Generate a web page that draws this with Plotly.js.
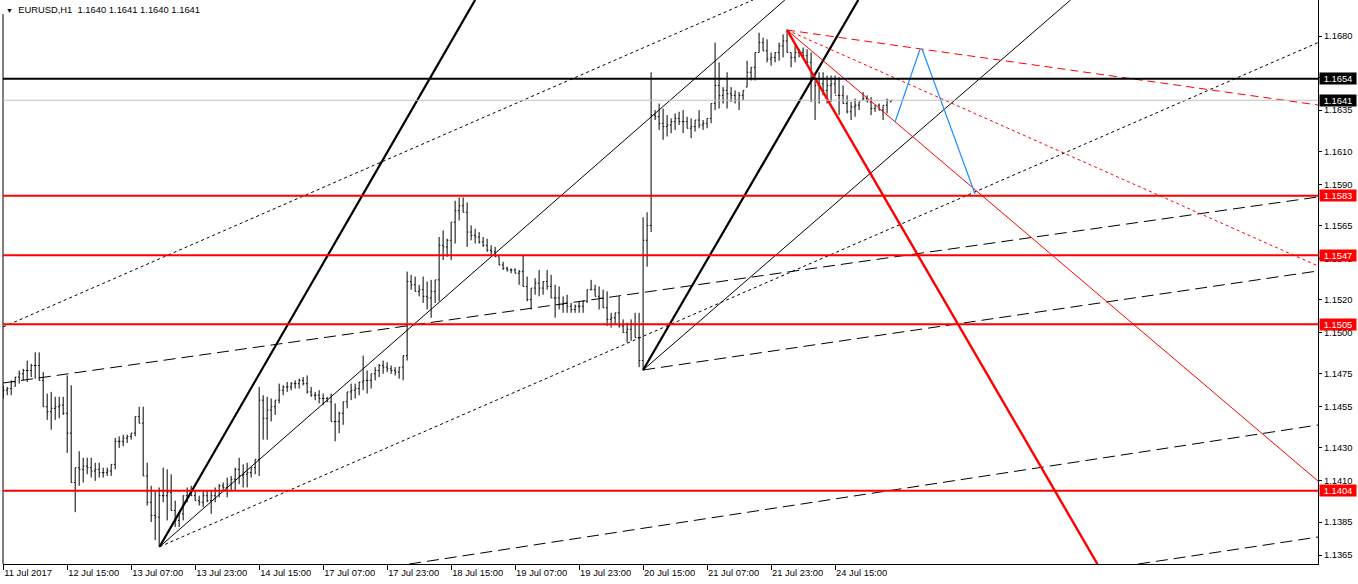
<!DOCTYPE html>
<html>
<head>
<meta charset="utf-8">
<script src="https://cdn.plot.ly/plotly-3.0.1.min.js"></script>
<style>
html,body{margin:0;padding:0;background:#ffffff;}
#chart{width:1358px;height:584px;}
</style>
</head>
<body>
<div id="chart"></div>
<script>
// ---------------- data ----------------
const symbolTitle = "EURUSD,H1";
const lastQuote = ["1.1640", "1.1641", "1.1640", "1.1641"];

const timeTickBars = [0, 16, 32, 48, 64, 80, 96, 112, 128, 144, 160, 176, 192, 208];
const timeTickLabels = ["11 Jul 2017", "12 Jul 15:00", "13 Jul 07:00", "13 Jul 23:00", "14 Jul 15:00",
  "17 Jul 07:00", "17 Jul 23:00", "18 Jul 15:00", "19 Jul 07:00", "19 Jul 23:00",
  "20 Jul 15:00", "21 Jul 07:00", "21 Jul 23:00", "24 Jul 15:00"];

const priceTicks = [1.1365, 1.1385, 1.1410, 1.1430, 1.1455, 1.1475, 1.1500, 1.1520, 1.1545,
  1.1565, 1.1590, 1.1610, 1.1635, 1.1655, 1.1680];

const opens = [
1.1462,1.1465,1.1466,1.1470,1.1473,1.1475,1.1477,1.1477,1.1480,1.1480,
1.1471,1.1455,1.1452,1.1454,1.1455,1.1456,1.1451,1.1439,1.1409,1.1418,
1.1417,1.1419,1.1418,1.1416,1.1417,1.1415,1.1415,1.1416,1.1420,1.1434,
1.1434,1.1436,1.1437,1.1439,1.1449,1.1445,1.1413,1.1397,1.1389,1.1388,
1.1401,1.1401,1.1403,1.1392,1.1386,1.1390,1.1401,1.1404,1.1401,1.1398,
1.1397,1.1401,1.1398,1.1401,1.1404,1.1407,1.1406,1.1408,1.1411,1.1417,
1.1413,1.1414,1.1415,1.1418,1.1423,1.1459,1.1448,1.1453,1.1455,1.1459,
1.1465,1.1467,1.1467,1.1469,1.1469,1.1471,1.1469,1.1464,1.1462,1.1462,
1.1460,1.1460,1.1458,1.1446,1.1446,1.1451,1.1458,1.1464,1.1465,1.1466,
1.1470,1.1471,1.1471,1.1475,1.1477,1.1480,1.1479,1.1478,1.1477,1.1476,
1.1479,1.1486,1.1531,1.1529,1.1525,1.1526,1.1522,1.1521,1.1525,1.1532,
1.1553,1.1552,1.1556,1.1567,1.1574,1.1577,1.1573,1.1561,1.1559,1.1558,
1.1555,1.1553,1.1550,1.1549,1.1546,1.1541,1.1539,1.1538,1.1538,1.1536,
1.1537,1.1528,1.1520,1.1527,1.1530,1.1527,1.1531,1.1528,1.1521,1.1521,
1.1517,1.1518,1.1516,1.1514,1.1516,1.1516,1.1519,1.1526,1.1526,1.1522,
1.1521,1.1515,1.1508,1.1509,1.1512,1.1504,1.1500,1.1502,1.1505,1.1497,
1.1483,1.1556,1.1565,1.1632,1.1631,1.1627,1.1625,1.1626,1.1628,1.1630,
1.1628,1.1628,1.1624,1.1625,1.1629,1.1626,1.1627,1.1630,1.1639,1.1650,
1.1644,1.1647,1.1645,1.1644,1.1641,1.1644,1.1649,1.1658,1.1661,1.1670,
1.1676,1.1671,1.1666,1.1667,1.1670,1.1674,1.1677,1.1670,1.1667,1.1670,
1.1670,1.1668,1.1664,1.1641,1.1650,1.1651,1.1647,1.1650,1.1651,1.1644,
1.1644,1.1639,1.1634,1.1637,1.1638,1.1641,1.1642,1.1640,1.1636,1.1638,
1.1635,1.1638,1.1640];

const highs = [
1.1468,1.1467,1.1471,1.1473,1.1477,1.1478,1.1483,1.1481,1.1488,1.1488,
1.1476,1.1463,1.1464,1.1461,1.1461,1.1461,1.1474,1.1468,1.1418,1.1428,
1.1424,1.1424,1.1424,1.1421,1.1421,1.1418,1.1418,1.1420,1.1436,1.1437,
1.1438,1.1438,1.1439,1.1449,1.1455,1.1455,1.1421,1.1407,1.1404,1.1406,
1.1418,1.1417,1.1414,1.1398,1.1390,1.1401,1.1406,1.1407,1.1404,1.1401,
1.1404,1.1404,1.1404,1.1406,1.1408,1.1409,1.1412,1.1413,1.1418,1.1424,
1.1420,1.1421,1.1418,1.1423,1.1467,1.1462,1.1461,1.1460,1.1459,1.1469,
1.1468,1.1470,1.1470,1.1471,1.1472,1.1473,1.1474,1.1467,1.1464,1.1465,
1.1463,1.1461,1.1463,1.1457,1.1452,1.1458,1.1464,1.1469,1.1469,1.1470,
1.1486,1.1477,1.1475,1.1479,1.1481,1.1483,1.1482,1.1480,1.1479,1.1479,
1.1486,1.1537,1.1535,1.1534,1.1529,1.1534,1.1531,1.1532,1.1532,1.1558,
1.1562,1.1557,1.1567,1.1580,1.1582,1.1582,1.1579,1.1565,1.1563,1.1561,
1.1558,1.1557,1.1553,1.1552,1.1546,1.1543,1.1540,1.1539,1.1539,1.1538,
1.1547,1.1534,1.1527,1.1533,1.1538,1.1531,1.1538,1.1535,1.1529,1.1528,
1.1522,1.1523,1.1518,1.1517,1.1519,1.1519,1.1526,1.1532,1.1529,1.1528,
1.1526,1.1525,1.1512,1.1512,1.1522,1.1508,1.1506,1.1508,1.1512,1.1512,
1.1570,1.1573,1.1658,1.1635,1.1639,1.1636,1.1632,1.1630,1.1633,1.1634,
1.1635,1.1631,1.1630,1.1629,1.1635,1.1629,1.1630,1.1639,1.1676,1.1664,
1.1649,1.1658,1.1649,1.1647,1.1646,1.1647,1.1665,1.1661,1.1670,1.1682,
1.1679,1.1678,1.1670,1.1670,1.1676,1.1681,1.1684,1.1670,1.1674,1.1672,
1.1673,1.1672,1.1670,1.1653,1.1658,1.1658,1.1656,1.1656,1.1656,1.1655,
1.1650,1.1644,1.1640,1.1642,1.1640,1.1646,1.1644,1.1643,1.1638,1.1639,
1.1638,1.1642,1.1641];

const lows = [
1.1460,1.1462,1.1462,1.1467,1.1469,1.1471,1.1470,1.1473,1.1472,1.1471,
1.1455,1.1447,1.1441,1.1447,1.1448,1.1450,1.1427,1.1409,1.1391,1.1407,
1.1409,1.1414,1.1412,1.1410,1.1412,1.1412,1.1413,1.1413,1.1417,1.1430,
1.1431,1.1433,1.1435,1.1437,1.1445,1.1413,1.1395,1.1385,1.1374,1.1370,
1.1397,1.1386,1.1392,1.1382,1.1382,1.1386,1.1397,1.1401,1.1398,1.1395,
1.1394,1.1397,1.1390,1.1397,1.1400,1.1404,1.1400,1.1404,1.1404,1.1408,
1.1406,1.1406,1.1412,1.1414,1.1413,1.1435,1.1435,1.1446,1.1450,1.1457,
1.1462,1.1464,1.1465,1.1466,1.1466,1.1468,1.1463,1.1461,1.1459,1.1457,
1.1456,1.1458,1.1446,1.1434,1.1439,1.1444,1.1454,1.1459,1.1460,1.1462,
1.1465,1.1463,1.1466,1.1471,1.1473,1.1475,1.1476,1.1475,1.1474,1.1472,
1.1471,1.1483,1.1526,1.1525,1.1522,1.1518,1.1514,1.1509,1.1518,1.1519,
1.1544,1.1546,1.1544,1.1554,1.1568,1.1573,1.1552,1.1556,1.1554,1.1554,
1.1552,1.1549,1.1547,1.1546,1.1541,1.1538,1.1537,1.1536,1.1536,1.1529,
1.1528,1.1519,1.1514,1.1523,1.1522,1.1523,1.1526,1.1521,1.1509,1.1514,
1.1512,1.1512,1.1512,1.1512,1.1512,1.1512,1.1518,1.1526,1.1522,1.1514,
1.1515,1.1504,1.1503,1.1505,1.1503,1.1500,1.1494,1.1495,1.1497,1.1479,
1.1477,1.1540,1.1561,1.1629,1.1623,1.1617,1.1619,1.1621,1.1623,1.1626,
1.1621,1.1624,1.1618,1.1622,1.1624,1.1623,1.1624,1.1627,1.1635,1.1636,
1.1639,1.1636,1.1640,1.1639,1.1635,1.1641,1.1649,1.1653,1.1653,1.1670,
1.1671,1.1664,1.1662,1.1664,1.1665,1.1667,1.1670,1.1661,1.1664,1.1667,
1.1667,1.1664,1.1640,1.1629,1.1639,1.1644,1.1639,1.1640,1.1645,1.1632,
1.1639,1.1633,1.1629,1.1631,1.1635,1.1641,1.1640,1.1632,1.1634,1.1635,
1.1629,1.1633,1.1640];

const closes = [
1.1465,1.1466,1.1470,1.1473,1.1475,1.1477,1.1477,1.1480,1.1480,1.1471,
1.1455,1.1452,1.1454,1.1455,1.1456,1.1451,1.1439,1.1409,1.1418,1.1417,
1.1419,1.1418,1.1416,1.1417,1.1415,1.1415,1.1416,1.1420,1.1434,1.1434,
1.1436,1.1437,1.1439,1.1449,1.1445,1.1413,1.1397,1.1389,1.1388,1.1401,
1.1401,1.1403,1.1392,1.1386,1.1390,1.1401,1.1404,1.1401,1.1398,1.1397,
1.1401,1.1398,1.1401,1.1404,1.1407,1.1406,1.1408,1.1411,1.1417,1.1413,
1.1414,1.1415,1.1418,1.1423,1.1459,1.1448,1.1453,1.1455,1.1459,1.1465,
1.1467,1.1467,1.1469,1.1469,1.1471,1.1469,1.1464,1.1462,1.1462,1.1460,
1.1460,1.1458,1.1446,1.1446,1.1451,1.1458,1.1464,1.1465,1.1466,1.1470,
1.1471,1.1471,1.1475,1.1477,1.1480,1.1479,1.1478,1.1477,1.1476,1.1479,
1.1486,1.1531,1.1529,1.1525,1.1526,1.1522,1.1521,1.1525,1.1532,1.1553,
1.1552,1.1556,1.1567,1.1574,1.1577,1.1573,1.1561,1.1559,1.1558,1.1555,
1.1553,1.1550,1.1549,1.1546,1.1541,1.1539,1.1538,1.1538,1.1536,1.1537,
1.1528,1.1520,1.1527,1.1530,1.1527,1.1531,1.1528,1.1521,1.1521,1.1517,
1.1518,1.1516,1.1514,1.1516,1.1516,1.1519,1.1526,1.1526,1.1522,1.1521,
1.1515,1.1508,1.1509,1.1512,1.1504,1.1500,1.1502,1.1505,1.1497,1.1483,
1.1556,1.1565,1.1632,1.1631,1.1627,1.1625,1.1626,1.1628,1.1630,1.1628,
1.1628,1.1624,1.1625,1.1629,1.1626,1.1627,1.1630,1.1639,1.1650,1.1644,
1.1647,1.1645,1.1644,1.1641,1.1644,1.1647,1.1658,1.1661,1.1670,1.1676,
1.1671,1.1666,1.1667,1.1670,1.1674,1.1677,1.1670,1.1667,1.1670,1.1670,
1.1668,1.1664,1.1641,1.1650,1.1651,1.1647,1.1650,1.1651,1.1644,1.1644,
1.1639,1.1634,1.1637,1.1638,1.1640,1.1642,1.1640,1.1636,1.1638,1.1635,
1.1638,1.1641,1.1641];

// horizontal levels
const redLevels = [1.1583, 1.1547, 1.1505, 1.1404];
const blackLevel = 1.1654;
const bidPrice = 1.1641;

// trendlines: start (bar, price) -> end (bar, price)
const trendStartBar   = [39.1, 39.1, 39.1, 0, 0, 160, 101.5, 283.75, 160, 160, 196, 196, 196, 196, 223, 229.75];
const trendStartPrice = [1.1370, 1.1370, 1.1370, 1.15034, 1.14694, 1.14773, 1.13595, 1.13595, 1.14773, 1.14773, 1.16836, 1.16836, 1.16836, 1.16836, 1.16278, 1.16721];
const trendEndBar     = [118.0, 195.45, 328.75, 187.5, 328.75, 328.75, 328.75, 328.75, 213.8, 266.9, 273.6, 328.75, 328.75, 328.75, 229.25, 243];
const trendEndPrice   = [1.17019, 1.17019, 1.1676, 1.17019, 1.15823, 1.15374, 1.14439, 1.13759, 1.17019, 1.17019, 1.13595, 1.14099, 1.15404, 1.16381, 1.16721, 1.15841];

// ---------------- styles ----------------
const FONT = "Liberation Sans, Arial, sans-serif";
const FS = 9.4;
const trendStyles = [
  {color:'#000000', width:2.2, dash:'solid'},
  {color:'#000000', width:1, dash:'solid'},
  {color:'#000000', width:1, dash:'3px,3px'},
  {color:'#000000', width:1, dash:'3px,3px'},
  {color:'#000000', width:1, dash:'12px,6px'},
  {color:'#000000', width:1, dash:'12px,6px'},
  {color:'#000000', width:1, dash:'12px,6px'},
  {color:'#000000', width:1, dash:'12px,6px'},
  {color:'#000000', width:2.2, dash:'solid'},
  {color:'#000000', width:1, dash:'solid'},
  {color:'#ff0000', width:2.4, dash:'solid'},
  {color:'#ff0000', width:1, dash:'solid'},
  {color:'#ff0000', width:1, dash:'3px,3px'},
  {color:'#ff0000', width:1, dash:'8px,5px'},
  {color:'#1e90ff', width:1.2, dash:'solid'},
  {color:'#1e90ff', width:1.2, dash:'solid'}
];

const barIndex = opens.map((_, i) => i);

const traces = [{
  type: 'ohlc',
  x: barIndex, open: opens, high: highs, low: lows, close: closes,
  increasing: {line: {color: '#000000', width: 1}},
  decreasing: {line: {color: '#000000', width: 1}},
  tickwidth: 0.3,
  hoverinfo: 'skip',
  showlegend: false
}];

trendStartBar.forEach((b, k) => {
  traces.push({
    type: 'scatter', mode: 'lines',
    x: [b, trendEndBar[k]], y: [trendStartPrice[k], trendEndPrice[k]],
    line: trendStyles[k], hoverinfo: 'skip', showlegend: false
  });
});

const shapes = [];
shapes.push({type:'line', xref:'paper', yref:'paper', x0:0, x1:0, y0:0, y1:0.975, line:{color:'#000', width:1}});
shapes.push({type:'line', xref:'paper', yref:'y', x0:0, x1:1, y0:bidPrice, y1:bidPrice, line:{color:'#c0c0c0', width:1}});
shapes.push({type:'line', xref:'paper', yref:'y', x0:0, x1:1, y0:blackLevel, y1:blackLevel, line:{color:'#000000', width:2}});
redLevels.forEach(p => shapes.push({type:'line', xref:'paper', yref:'y', x0:0, x1:1, y0:p, y1:p, line:{color:'#ff0000', width:2}}));

const annotations = [];
annotations.push({
  xref:'paper', yref:'paper', x:0, y:1, xanchor:'left', yanchor:'top', xshift:2, yshift:-3,
  text:'<span style="font-size:7px">▼</span>&nbsp;&nbsp;' + symbolTitle + '&nbsp;&nbsp;' + lastQuote.join(' '),
  showarrow:false, bgcolor:'#ffffff', borderpad:0,
  font:{family:FONT, size:FS, color:'#000000'}
});

const labelPrices = [blackLevel, bidPrice].concat(redLevels);
const labelBg = ['#000000', '#000000', '#ff0000', '#ff0000', '#ff0000', '#ff0000'];
labelPrices.forEach((p, k) => annotations.push({
  xref:'paper', yref:'y', x:1, y:p, xanchor:'left', yanchor:'middle', xshift:1,
  text:p.toFixed(4), showarrow:false, bgcolor:labelBg[k], borderpad:0,
  width:36, height:11, align:'center',
  font:{family:FONT, size:FS, color:'#ffffff'}
}));

const layout = {
  width:1358, height:584,
  margin:{l:3, r:40, t:0, b:20, pad:0},
  paper_bgcolor:'#ffffff', plot_bgcolor:'#ffffff',
  showlegend:false,
  xaxis:{
    range:[-0.05, 328.75], showgrid:false, zeroline:false,
    showline:true, linecolor:'#000000', linewidth:1,
    ticks:'outside', ticklen:5, tickcolor:'#000000', tickwidth:1,
    tickmode:'array', tickvals:timeTickBars, ticktext:timeTickLabels,
    ticklabelposition:'outside right',
    tickfont:{family:FONT, size:FS, color:'#000000'},
    rangeslider:{visible:false}, fixedrange:true
  },
  yaxis:{
    side:'right', range:[1.135954, 1.170185], showgrid:false, zeroline:false,
    showline:true, linecolor:'#000000', linewidth:1,
    ticks:'outside', ticklen:3, tickcolor:'#000000', tickwidth:1,
    tickmode:'array', tickvals:priceTicks, ticktext:priceTicks.map(v => v.toFixed(4)),
    tickfont:{family:FONT, size:FS, color:'#000000'},
    fixedrange:true
  },
  shapes:shapes,
  annotations:annotations
};

Plotly.newPlot('chart', traces, layout, {displayModeBar:false, staticPlot:true});
</script>
</body>
</html>
